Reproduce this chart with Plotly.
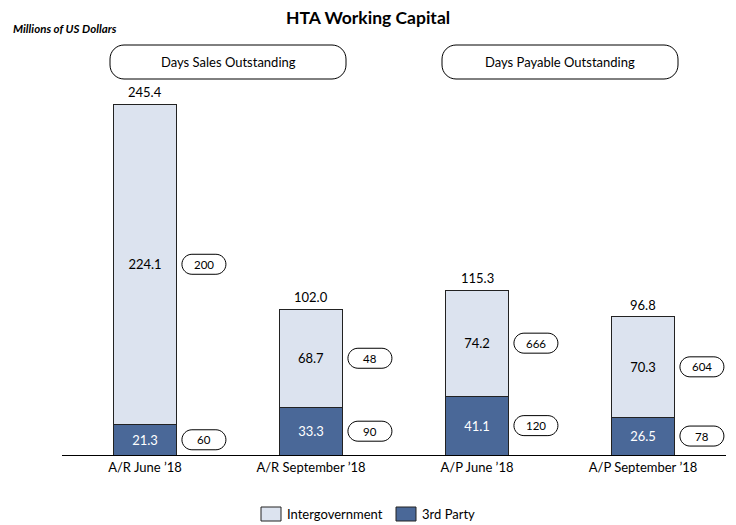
import plotly.graph_objects as go

categories = ["A/R June \u201918", "A/R September \u201918", "A/P June \u201918", "A/P September \u201918"]
third_party = [21.3, 33.3, 41.1, 26.5]
intergov = [224.1, 68.7, 74.2, 70.3]
totals = [245.4, 102.0, 115.3, 96.8]
days_third = [60, 90, 120, 78]
days_intergov = [200, 48, 666, 604]
groups = ["Days Sales Outstanding", "Days Payable Outstanding"]
series_names = ["Intergovernment", "3rd Party"]

FONT = "Lato"
light = "#DCE3EF"
dark = "#4A6898"
edge = "#222222"
xs = list(range(len(categories)))

# page has an 8px body margin, so the figure is drawn 8px smaller/shifted
OFF = 8
W, H = 736 - OFF, 525 - OFF
# plot area in page pixels: x 62..726, y 85..455
PX_W, PX_H = 664, 370
LEFT, TOP = 62 - OFF, 85 - OFF


def px2paper(px, py):
    # page pixel -> paper coords
    return (px - OFF - LEFT) / PX_W, 1 + (TOP - (py - OFF)) / PX_H


def rounded_path(w, h, r):
    # rounded rectangle around (0,0), pixel units
    k = 0.552 * r
    a, b = w / 2, h / 2
    return (f"M {-a + r},{-b} L {a - r},{-b} "
            f"C {a - r + k},{-b} {a},{-b + r - k} {a},{-b + r} "
            f"L {a},{b - r} "
            f"C {a},{b - r + k} {a - r + k},{b} {a - r},{b} "
            f"L {-a + r},{b} "
            f"C {-a + r - k},{b} {-a},{b - r + k} {-a},{b - r} "
            f"L {-a},{-b + r} "
            f"C {-a},{-b + r - k} {-a + r - k},{-b} {-a + r},{-b} Z")


fig = go.Figure()
fig.add_bar(x=xs, y=third_party, name=series_names[1],
            marker=dict(color=dark, line=dict(color=edge, width=1)),
            text=[f"{v:.1f}" for v in third_party], textposition="inside",
            insidetextanchor="middle", textangle=0,
            textfont=dict(color="white", size=13, family=FONT), width=0.375)
fig.add_bar(x=xs, y=intergov, name=series_names[0],
            marker=dict(color=light, line=dict(color=edge, width=1)),
            text=[f"{v:.1f}" for v in intergov], textposition="inside",
            insidetextanchor="middle", textangle=0,
            textfont=dict(color="black", size=13, family=FONT), width=0.375)

# totals above the bars
for i, t in enumerate(totals):
    fig.add_annotation(x=i, y=t, text=f"{t:.1f}", showarrow=False, yanchor="bottom",
                       xanchor="center", yshift=2, font=dict(size=13, color="black", family=FONT))

# day pills
pill = rounded_path(44, 20, 10)
for i in xs:
    for mid, d in [(third_party[i] / 2, days_third[i]),
                   (third_party[i] + intergov[i] / 2, days_intergov[i])]:
        fig.add_shape(type="path", xref="x", yref="y", xsizemode="pixel", ysizemode="pixel",
                      xanchor=i + 0.355, yanchor=mid, path=pill,
                      line=dict(color="black", width=1), fillcolor="white")
        fig.add_annotation(x=i + 0.355, y=mid, text=str(d), showarrow=False,
                           xanchor="center", yanchor="middle",
                           font=dict(size=11.5, color="black", family=FONT))

# group header boxes
box = rounded_path(236, 34, 14)
_, gy = px2paper(0, 62)
for gx, g in zip([0.5, 2.5], groups):
    fig.add_shape(type="path", xref="x", yref="paper", xsizemode="pixel", ysizemode="pixel",
                  xanchor=gx, yanchor=gy, path=box,
                  line=dict(color="black", width=1), fillcolor="white")
    fig.add_annotation(x=gx, y=gy, xref="x", yref="paper", text=g, showarrow=False,
                       xanchor="center", yanchor="middle",
                       font=dict(size=13, color="black", family=FONT))

# titles
tx, ty = px2paper(368, 17)
fig.add_annotation(x=tx, y=ty, xref="paper", yref="paper", text="<b>HTA Working Capital</b>",
                   showarrow=False, xanchor="center", yanchor="middle",
                   font=dict(size=17.5, color="black", family=FONT))
mx, my = px2paper(11, 28)
fig.add_annotation(x=mx, y=my, xref="paper", yref="paper",
                   text="<b><i>Millions of US Dollars</i></b>", showarrow=False,
                   xanchor="left", yanchor="middle",
                   font=dict(size=11.5, color="black", family=FONT))

# legend drawn by hand (bigger swatches than plotly's own)
for sx, tx_px, name, col in [(271, 285, series_names[0], light), (406, 420, series_names[1], dark)]:
    ax, ay = px2paper(sx, 514)
    fig.add_shape(type="rect", xref="paper", yref="paper", xsizemode="pixel", ysizemode="pixel",
                  xanchor=ax, yanchor=ay, x0=-10, x1=10, y0=-7, y1=7,
                  line=dict(color=edge, width=1), fillcolor=col)
    lx, _ = px2paper(tx_px, 514)
    fig.add_annotation(x=lx, y=ay, xref="paper", yref="paper", text=name, showarrow=False,
                       xanchor="left", yanchor="middle",
                       font=dict(size=13, color="black", family=FONT))

fig.update_layout(
    barmode="stack",
    width=W, height=H,
    margin=dict(l=LEFT, r=W - LEFT - PX_W, t=TOP, b=H - TOP - PX_H, autoexpand=False),
    plot_bgcolor="white", paper_bgcolor="white",
    font=dict(family=FONT, size=13, color="black"),
    showlegend=False,
)
fig.update_xaxes(range=[-0.5, 3.5], tickvals=xs, ticktext=categories, showline=True,
                 linecolor="black", linewidth=1, showgrid=False, ticks="", zeroline=False,
                 tickfont=dict(size=13, family=FONT))
fig.update_yaxes(range=[0, 258.7], visible=False, showgrid=False, zeroline=False)

fig.write_html("out.html")
